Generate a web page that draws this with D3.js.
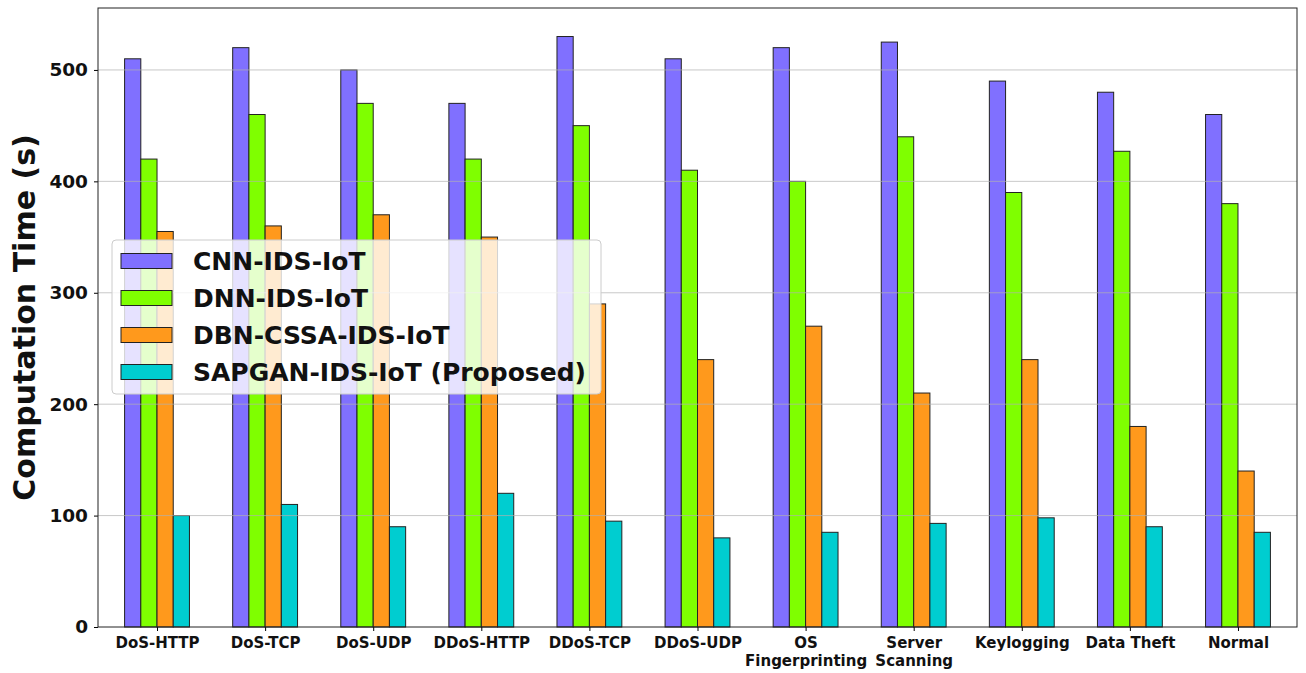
<!DOCTYPE html>
<html><head><meta charset="utf-8">
<script src="https://cdn.jsdelivr.net/npm/d3@7"></script>
<style>body{margin:0;background:#fff}svg{display:block}text{font-family:"DejaVu Sans",sans-serif;font-weight:bold}</style>
</head><body><svg id="c" width="1306" height="673"></svg>
<script>
const categories = ["DoS-HTTP","DoS-TCP","DoS-UDP","DDoS-HTTP","DDoS-TCP","DDoS-UDP","OS\nFingerprinting","Server\nScanning","Keylogging","Data Theft","Normal"];
const seriesNames = ["CNN-IDS-IoT","DNN-IDS-IoT","DBN-CSSA-IDS-IoT","SAPGAN-IDS-IoT (Proposed)"];
const cnn   = [510,520,500,470,530,510,520,525,490,480,460];
const dnn   = [420,460,470,420,450,410,400,440,390,427,380];
const dbn   = [355,360,370,350,290,240,270,210,240,180,140];
const sapgan= [100,110,90,120,95,80,85,93,98,90,85];
const yTicks = [0,100,200,300,400,500];
const colors = ["#8070ff","#7fff00","#ff991c","#00cdd0"];
const series = [cnn,dnn,dbn,sapgan];

const svg = d3.select("#c");
const L=98,R=1297,T=8,B=627;
const x = d3.scaleLinear().domain([-0.546,10.546]).range([L,R]);
const y = d3.scaleLinear().domain([0,555.6]).range([B,T]);
const bw = 0.15;

const g = svg.append("g");
series.forEach((s,si)=>{
  g.selectAll(null).data(s).enter().append("rect")
    .attr("x",(d,i)=>x(i+(si-2)*bw))
    .attr("width",x(bw)-x(0))
    .attr("y",d=>y(d)).attr("height",d=>B-y(d))
    .attr("fill",colors[si]).attr("stroke","#222").attr("stroke-width",1);
});
// grid on top
svg.append("g").selectAll("line").data(yTicks.filter(t=>t>0)).enter().append("line")
  .attr("x1",L).attr("x2",R).attr("y1",d=>y(d)).attr("y2",d=>y(d))
  .attr("stroke","#b0b0b0").attr("stroke-opacity",0.7).attr("stroke-width",1);

// axes
const ya = svg.append("g").attr("transform",`translate(${L},0)`)
  .call(d3.axisLeft(y).tickValues(yTicks).tickSize(4).tickPadding(6));
ya.selectAll("text").attr("font-size",18.5).attr("fill","#111");
ya.select(".domain").remove();
const xa = svg.append("g").attr("transform",`translate(0,${B})`)
  .call(d3.axisBottom(x).tickValues(d3.range(categories.length)).tickSize(4).tickFormat(""));
xa.select(".domain").remove();
xa.selectAll(".tick").each(function(d){
  const lines = categories[d].split("\n");
  const t = d3.select(this).append("text").attr("fill","#111").attr("font-size",15).attr("text-anchor","middle");
  lines.forEach((ln,k)=>t.append("tspan").attr("x",0).attr("y",21+k*18).text(ln));
});
svg.append("rect").attr("x",L).attr("y",T).attr("width",R-L).attr("height",B-T)
  .attr("fill","none").attr("stroke","#222").attr("stroke-width",1);

svg.append("text").attr("transform",`translate(35,${(T+B)/2}) rotate(-90)`)
  .attr("text-anchor","middle").attr("font-size",30).attr("fill","#111").text("Computation Time (s)");

// legend
const lg = svg.append("g");
lg.append("rect").attr("x",112).attr("y",240).attr("width",489).attr("height",154).attr("rx",4)
  .attr("fill","#fff").attr("fill-opacity",0.8).attr("stroke","#ccc");
seriesNames.forEach((n,i)=>{
  const cy = 261+i*37;
  lg.append("rect").attr("x",121).attr("y",cy-7.5).attr("width",51).attr("height",15)
    .attr("fill",colors[i]).attr("stroke","#222");
  lg.append("text").attr("x",193).attr("y",cy+9).attr("font-size",25).attr("fill","#111").text(n);
});
</script></body></html>
